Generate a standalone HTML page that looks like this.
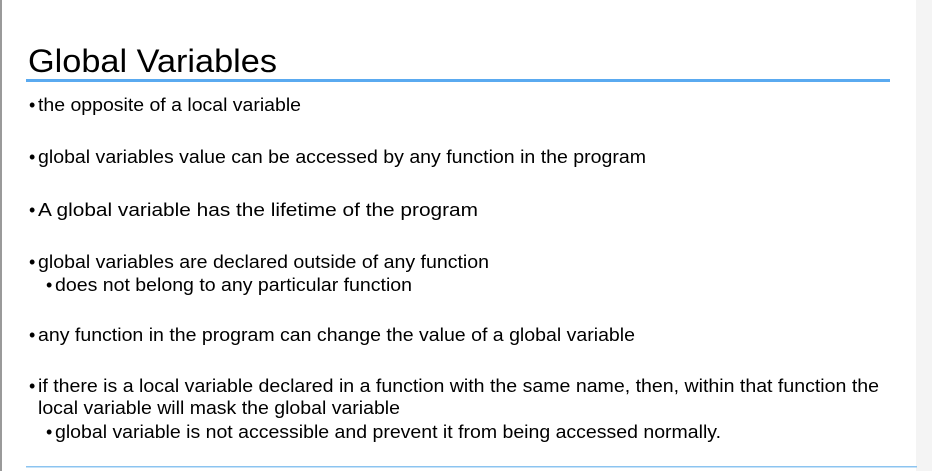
<!DOCTYPE html>
<html><head><meta charset="utf-8"><style>
html,body{margin:0;padding:0;background:#fff;}
svg{display:block;}
text{font-family:"Liberation Sans",Arial,sans-serif;fill:#000;}
</style></head><body>
<svg width="932" height="471" viewBox="0 0 932 471" xmlns="http://www.w3.org/2000/svg">
<rect x="0" y="0" width="932" height="471" fill="#fff"/>
<rect x="0" y="0" width="2" height="471" fill="#9a9a9a"/>
<rect x="916" y="0" width="16" height="471" fill="#f4f4f4"/>
<text x="28" y="72" font-size="32" textLength="249" lengthAdjust="spacingAndGlyphs">Global Variables</text>
<rect x="26" y="79" width="864" height="3" fill="#5aaaf0"/>
<g font-size="18">
<text x="29" y="111">•</text><text x="38" y="111" textLength="263" lengthAdjust="spacingAndGlyphs">the opposite of a local variable</text>
<text x="29" y="163">•</text><text x="38" y="163" textLength="608" lengthAdjust="spacingAndGlyphs">global variables value can be accessed by any function in the program</text>
<text x="29" y="216">•</text><text x="38" y="216" textLength="440" lengthAdjust="spacingAndGlyphs">A global variable has the lifetime of the program</text>
<text x="29" y="268">•</text><text x="38" y="268" textLength="451" lengthAdjust="spacingAndGlyphs">global variables are declared outside of any function</text>
<text x="46" y="291">•</text><text x="55" y="291" textLength="357" lengthAdjust="spacingAndGlyphs">does not belong to any particular function</text>
<text x="29" y="341">•</text><text x="38" y="341" textLength="597" lengthAdjust="spacingAndGlyphs">any function in the program can change the value of a global variable</text>
<text x="29" y="392">•</text><text x="38" y="392" textLength="841" lengthAdjust="spacingAndGlyphs">if there is a local variable declared in a function with the same name, then, within that function the</text>
<text x="38" y="414" textLength="362" lengthAdjust="spacingAndGlyphs">local variable will mask the global variable</text>
<text x="46" y="438">•</text><text x="55" y="438" textLength="666" lengthAdjust="spacingAndGlyphs">global variable is not accessible and prevent it from being accessed normally.</text>
</g>
<rect x="26" y="466" width="891" height="1.5" fill="#8cc4f0"/>
</svg>
</body></html>
